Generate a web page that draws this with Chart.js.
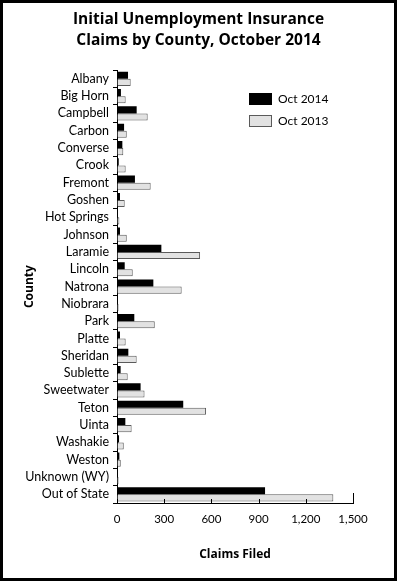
<!DOCTYPE html>
<html>
<head>
<meta charset="utf-8">
<script src="https://cdn.jsdelivr.net/npm/chart.js@4.4.1/dist/chart.umd.min.js"></script>
<style>
  html, body { margin: 0; padding: 0; background: #fff; }
  #wrap { position: relative; width: 397px; height: 581px; }
  #c { position: absolute; left: 0; top: 0; }
  #frame { position: absolute; left: 0; top: 0; width: 397px; height: 581px; box-sizing: border-box; border: 3px solid #000; pointer-events: none; }
</style>
</head>
<body>
<div id="wrap">
  <canvas id="c" width="397" height="581"></canvas>
  <div id="frame"></div>
</div>
<script>
const counties = ["Albany","Big Horn","Campbell","Carbon","Converse","Crook","Fremont","Goshen","Hot Springs","Johnson","Laramie","Lincoln","Natrona","Niobrara","Park","Platte","Sheridan","Sublette","Sweetwater","Teton","Uinta","Washakie","Weston","Unknown (WY)","Out of State"];
const oct2014 = [70,25,125,45,34,11,114,19,4,19,282,49,231,2,110,19,72,23,150,421,53,13,15,1,941];
const oct2013 = [87,55,195,62,40,55,214,49,15,62,528,100,411,10,240,55,125,68,175,566,93,43,24,10,1375];
const xTicks = [0,300,600,900,1200,1500];
const seriesLabels = ["Oct 2014","Oct 2013"];
const titleLines = ["Initial Unemployment Insurance","Claims by County, October 2014"];

const FONT = "Lato, 'Open Sans', sans-serif";

const innerTicks = {
  id: 'innerTicks',
  afterDatasetsDraw(chart) {
    const xs = chart.scales.x;
    const ctx = chart.ctx;
    const bottom = chart.chartArea.bottom;
    ctx.save();
    ctx.strokeStyle = '#000';
    ctx.lineWidth = 1;
    xTicks.forEach((v, i) => {
      const px = Math.round(xs.getPixelForValue(v)) + 0.5;
      const len = (i === xTicks.length - 1) ? 10 : 4;
      ctx.beginPath();
      ctx.moveTo(px, bottom);
      ctx.lineTo(px, bottom - len);
      ctx.stroke();
    });
    ctx.restore();
  }
};

const customLegend = {
  id: 'customLegend',
  afterDraw(chart) {
    const ctx = chart.ctx;
    const x0 = 249, y0 = 93;
    ctx.save();
    chart.data.datasets.forEach((ds, i) => {
      const y = y0 + i * 22;
      ctx.fillStyle = ds.backgroundColor;
      ctx.fillRect(x0, y, 23, 12);
      ctx.strokeStyle = ds.borderColor;
      ctx.lineWidth = 1;
      ctx.strokeRect(x0 + 0.5, y + 0.5, 22, 11);
      ctx.fillStyle = '#000';
      ctx.font = "12px " + FONT;
      ctx.textBaseline = 'middle';
      ctx.textAlign = 'left';
      ctx.fillText(ds.label, x0 + 29, y + 6.5);
    });
    ctx.restore();
  }
};

new Chart(document.getElementById('c'), {
  type: 'bar',
  data: {
    labels: counties,
    datasets: [
      { label: seriesLabels[0], data: oct2014, backgroundColor: '#000000', borderColor: '#000000', borderWidth: 0, categoryPercentage: 0.82, barPercentage: 1.0 },
      { label: seriesLabels[1], data: oct2013, backgroundColor: '#e2e2e2', borderColor: '#5a5a5a', borderWidth: 1, categoryPercentage: 0.82, barPercentage: 1.0 }
    ]
  },
  options: {
    indexAxis: 'y',
    responsive: false,
    animation: false,
    devicePixelRatio: 1,
    layout: { padding: { left: 0, right: 0, top: 0, bottom: 0 } },
    plugins: {
      legend: { display: false },
      tooltip: { enabled: false },
      title: {
        display: true,
        text: titleLines,
        color: '#000',
        font: { family: "'Open Sans', sans-serif", size: 15.5, weight: 'bold', lineHeight: 1.36 },
        padding: { top: 9, bottom: 19 }
      }
    },
    scales: {
      x: {
        min: 0, max: 1500,
        afterFit(scale) { scale.height = 78; },
        ticks: {
          callback: (v) => xTicks.includes(v) ? v.toLocaleString('en-US') : '',
          stepSize: 300,
          color: '#000',
          padding: 9,
          maxRotation: 0,
          font: { family: FONT, size: 11.5 }
        },
        grid: { display: true, drawOnChartArea: false, drawTicks: false },
        border: { display: true, color: '#000', width: 1 },
        title: {
          display: true,
          text: 'Claims Filed',
          color: '#000',
          font: { family: "'Open Sans', sans-serif", size: 12, weight: 'bold', lineHeight: 1.2 },
          padding: { top: 0, bottom: 19 }
        }
      },
      y: {
        afterFit(scale) { scale.width = 117; },
        ticks: {
          color: '#000',
          padding: 4,
          autoSkip: false,
          font: { family: FONT, size: 12.5 }
        },
        grid: { display: true, drawOnChartArea: false, drawTicks: true, tickLength: 4, color: '#000', offset: true },
        border: { display: true, color: '#000', width: 1 },
        title: {
          display: true,
          text: 'County',
          color: '#000',
          font: { family: "'Open Sans', sans-serif", size: 12, weight: 'bold', lineHeight: 1.2 },
          padding: { top: 22, bottom: 0 }
        }
      },
      rightSpace: {
        type: 'linear',
        position: 'right',
        display: true,
        afterFit(scale) { scale.width = 44; },
        ticks: { display: false },
        grid: { display: false, drawTicks: false },
        border: { display: false },
        title: { display: false }
      }
    }
  },
  plugins: [innerTicks, customLegend]
});
</script>
</body>
</html>
